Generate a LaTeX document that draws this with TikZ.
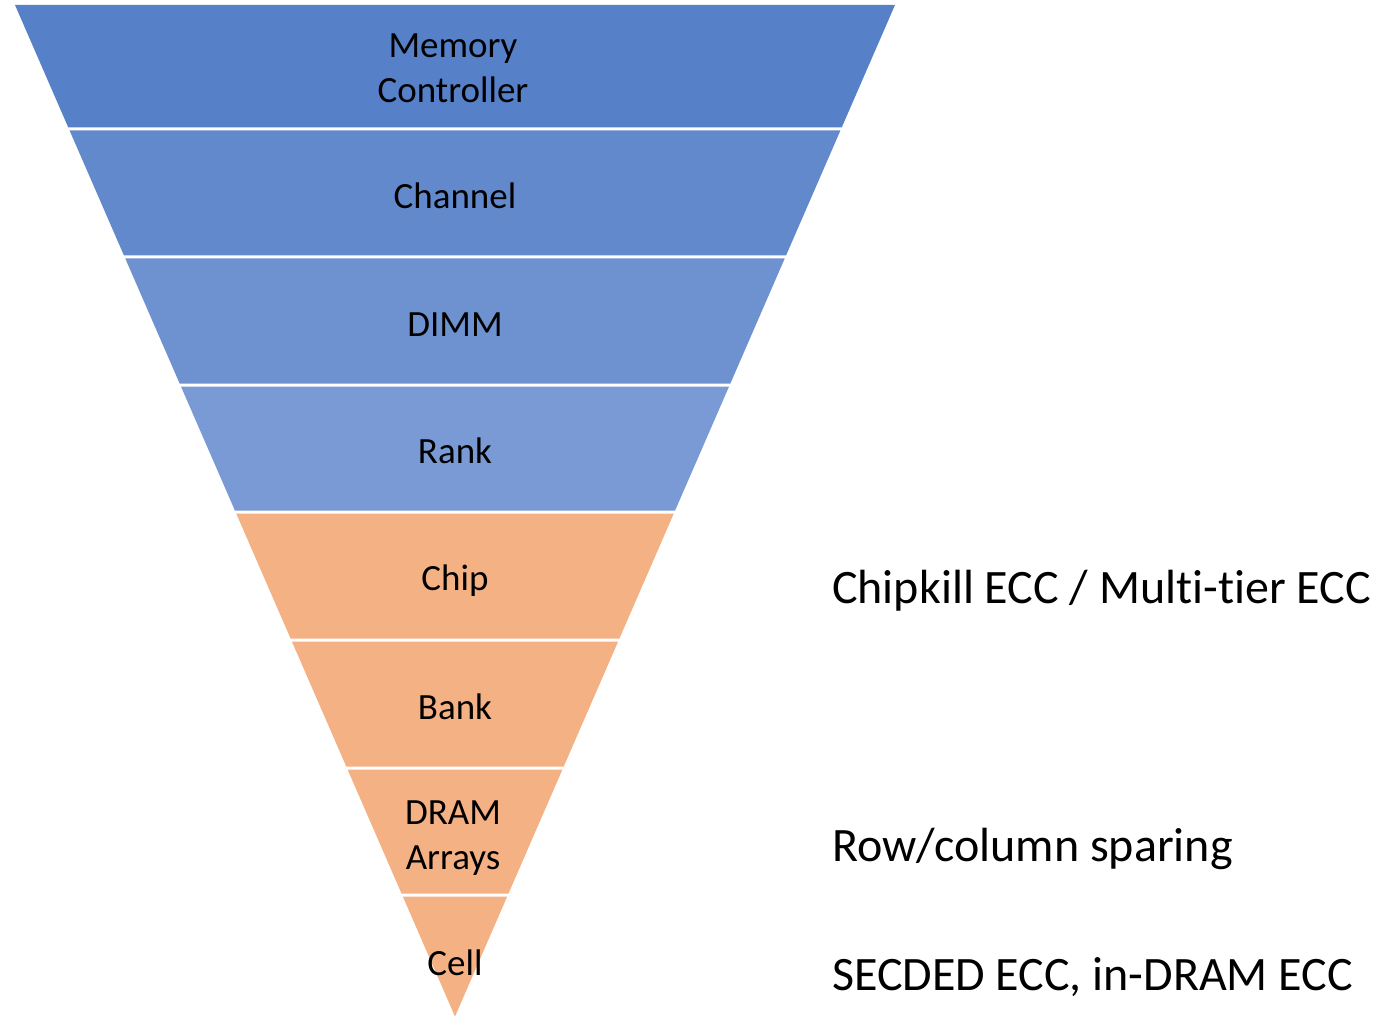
\documentclass[tikz,border=0pt]{standalone}
\usepackage{fontspec}
\setmainfont[Ligatures=NoCommon]{Carlito}
\definecolor{lvA}{RGB}{86,128,200}
\definecolor{lvB}{RGB}{98,137,204}
\definecolor{lvC}{RGB}{110,145,208}
\definecolor{lvD}{RGB}{121,154,213}
\definecolor{lvO}{RGB}{244,177,131}
\tikzset{
  seglabel/.style={align=center, inner sep=0pt, font=\fontsize{37}{45}\selectfont},
  sidelabel/.style={anchor=west, inner sep=0pt, font=\fontsize{48}{56}\selectfont}
}
\begin{document}
\begin{tikzpicture}[x=1pt, y=-1pt]
\useasboundingbox (0,0) rectangle (1381,1016);
% funnel slices: top y, bottom y, fill colour
\foreach \t/\b/\c in {5/127.5/lvA, 130.5/255.5/lvB, 258.5/383.5/lvC, 386.5/510.5/lvD,
                      513.5/638.5/lvO, 641.5/766.5/lvO, 769.5/893.5/lvO, 896.5/1016.5/lvO}{
  \pgfmathsetmacro\lt{15+0.435*(\t-5)}
  \pgfmathsetmacro\rt{895-0.435*(\t-5)}
  \pgfmathsetmacro\lb{15+0.435*(\b-5)}
  \pgfmathsetmacro\rb{895-0.435*(\b-5)}
  \fill[\c] (\lt,\t) -- (\rt,\t) -- (\rb,\b) -- (\lb,\b) -- cycle;
}
% slice labels
\node[seglabel] (mc)   at (453,68)  {Memory\\Controller};
\node[seglabel] (chan) at (455,196) {Channel};
\node[seglabel] (dimm) at (455,325) {DIMM};
\node[seglabel] (rank) at (455,451) {Rank};
\node[seglabel] (chip) at (455,581) {Chip};
\node[seglabel] (bank) at (455,707) {Bank};
\node[seglabel] (arr)  at (453,838) {DRAM\\Arrays};
\node[seglabel] (cell) at (455,963) {Cell};
% protection schemes
\node[sidelabel] (ck)  at (832,591) {Chipkill ECC / Multi-tier ECC};
\node[sidelabel] (rc)  at (832,849) {Row/column sparing};
\node[sidelabel] (sec) at (832,977) {SECDED ECC, in-DRAM ECC};
\end{tikzpicture}
\end{document}
